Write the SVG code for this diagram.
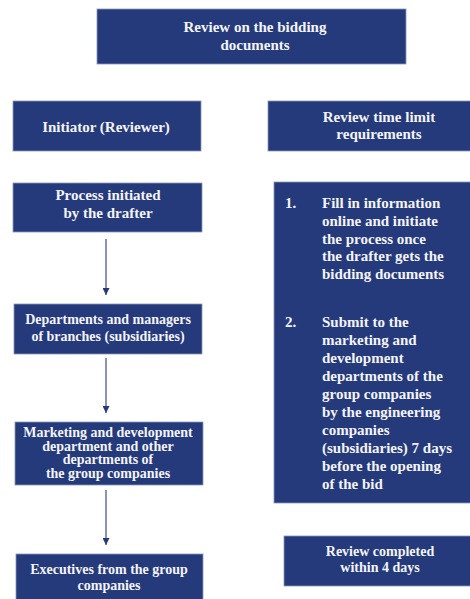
<svg xmlns="http://www.w3.org/2000/svg" width="470" height="599" viewBox="0 0 470 599">
<defs>
<style>
.box{fill:#253a7b;stroke:#8a96bb;stroke-width:0.8}
.t{font-family:"Liberation Serif","Times New Roman",serif;font-weight:bold;font-size:15px;fill:#f4f4f8;text-anchor:middle}
.s{font-size:14px}
.l{font-family:"Liberation Serif","Times New Roman",serif;font-weight:bold;font-size:15px;fill:#f4f4f8}
.c{stroke:#3b4c8a;stroke-width:1.2;fill:none}
</style>
<marker id="ah" viewBox="0 0 10 10" refX="10" refY="5" markerWidth="7" markerHeight="7" markerUnits="userSpaceOnUse" orient="auto">
<path d="M0,0L10,5L0,10z" fill="#253a7b"/>
</marker>
</defs>
<rect width="470" height="599" fill="#ffffff"/>
<g id="n-top">
<rect class="box" x="97" y="9" width="309" height="55"/>
<text class="t" x="255" y="32">Review on the bidding</text>
<text class="t" x="255" y="50">documents</text>
</g>
<g id="n-initiator">
<rect class="box" x="13" y="101" width="188" height="50"/>
<text class="t" x="106" y="132">Initiator (Reviewer)</text>
</g>
<g id="n-timelimit">
<rect class="box" x="268" y="101" width="222" height="50"/>
<text class="t" x="379" y="122">Review time limit</text>
<text class="t" x="379" y="139">requirements</text>
</g>
<g id="n-process">
<rect class="box" x="13" y="183" width="189" height="49"/>
<text class="t" x="108" y="200">Process initiated</text>
<text class="t" x="108" y="218">by the drafter</text>
</g>
<g id="n-departments">
<rect class="box" x="14" y="304" width="188" height="50"/>
<text class="t s" x="108" y="324">Departments and managers</text>
<text class="t s" x="108" y="341">of branches (subsidiaries)</text>
</g>
<g id="n-marketing">
<rect class="box" x="15" y="422" width="188" height="63"/>
<text class="t s" x="108" y="437">Marketing and development</text>
<text class="t s" x="108" y="450.5">department and other</text>
<text class="t s" x="108" y="464">departments of</text>
<text class="t s" x="108" y="478">the group companies</text>
</g>
<g id="n-executives">
<rect class="box" x="16" y="554" width="187" height="52"/>
<text class="t s" x="109" y="574">Executives from the group</text>
<text class="t s" x="109" y="590">companies</text>
</g>
<g id="n-requirements">
<rect class="box" x="274" y="182" width="210" height="321"/>
<text class="l" x="285" y="208">1.</text>
<text class="l" x="322" y="208">Fill in information</text>
<text class="l" x="322" y="226">online and initiate</text>
<text class="l" x="322" y="243.5">the process once</text>
<text class="l" x="322" y="261">the drafter gets the</text>
<text class="l" x="322" y="279">bidding documents</text>
<text class="l" x="285" y="327">2.</text>
<text class="l" x="322" y="327">Submit to the</text>
<text class="l" x="322" y="345">marketing and</text>
<text class="l" x="322" y="363">development</text>
<text class="l" x="322" y="381">departments of the</text>
<text class="l" x="322" y="399">group companies</text>
<text class="l" x="322" y="417">by the engineering</text>
<text class="l" x="322" y="435">companies</text>
<text class="l" x="322" y="453">(subsidiaries) 7 days</text>
<text class="l" x="322" y="471">before the opening</text>
<text class="l" x="322" y="489">of the bid</text>
</g>
<g id="n-completed">
<rect class="box" x="284" y="536" width="192" height="50"/>
<text class="t s" x="380" y="556">Review completed</text>
<text class="t s" x="380" y="572">within 4 days</text>
</g>
<g id="connectors">
<line class="c" x1="106" y1="239" x2="106" y2="295" marker-end="url(#ah)"/>
<line class="c" x1="106" y1="358" x2="106" y2="413" marker-end="url(#ah)"/>
<line class="c" x1="106" y1="490" x2="106" y2="545" marker-end="url(#ah)"/>
</g>
</svg>
